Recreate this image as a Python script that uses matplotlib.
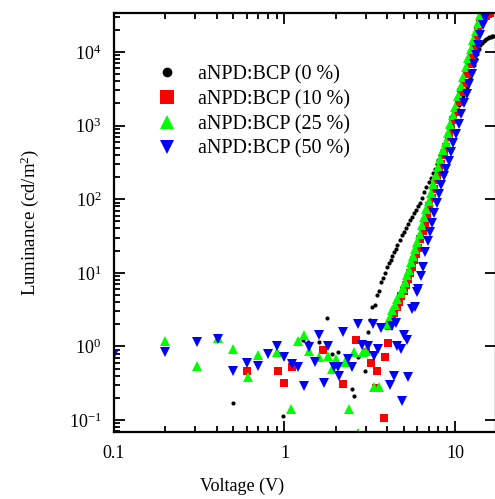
import matplotlib
matplotlib.use('Agg')
import matplotlib.pyplot as plt
from matplotlib.ticker import LogLocator, LogFormatterMathtext, NullFormatter
from matplotlib.lines import Line2D

plt.rcParams['font.family'] = ['Liberation Serif', 'DejaVu Serif']
plt.rcParams['mathtext.fontset'] = 'custom'
plt.rcParams['mathtext.rm'] = 'Liberation Serif'
plt.rcParams['mathtext.it'] = 'Liberation Serif:italic'

# %% data: voltage (V) and luminance (cd/m2)
labels = ['aNPD:BCP (0 %)', 'aNPD:BCP (10 %)', 'aNPD:BCP (25 %)', 'aNPD:BCP (50 %)']

v0 = [0.5, 0.98, 1.28, 1.37, 1.59, 1.78, 1.9, 2.06, 2.5, 2.55, 2.7, 2.97, 3.1, 3.17,
      3.26, 3.4, 3.5, 3.6, 3.7, 3.8, 3.9, 4.0, 4.1, 4.2, 4.3, 4.4, 4.5, 4.6, 4.75, 4.9,
      5.0, 5.15, 5.3, 5.45, 5.6, 5.75, 5.9, 6.05, 6.2, 6.4, 6.6, 6.8, 7.0, 7.2, 7.4,
      7.6, 7.8, 8.0, 8.2, 8.4, 8.65, 8.9, 9.15, 9.4, 9.65, 9.9, 10.2, 10.5, 10.8, 11.1,
      11.4, 11.7, 12.0, 12.3, 12.6, 12.9, 13.2, 13.5, 13.8, 14.1, 14.4, 14.7, 15.0,
      15.3, 15.6, 15.9, 16.2, 16.5, 16.8]
l0 = [0.17, 0.115, 1.24, 1.13, 1.13, 2.4, 0.8, 0.83, 0.26, 0.21, 0.71, 0.46, 1.55, 2.3,
      3.4, 3.7, 5.0, 5.6, 7.4, 8.5, 9.8, 12, 13.5, 15, 16.7, 19, 21, 24, 28, 33,
      36, 41, 46, 52, 58, 64, 72, 80, 90, 105, 125, 145, 170, 195, 225,
      260, 300, 345, 400, 460, 540, 640, 760, 900, 1070, 1270, 1550, 1880, 2150, 2500,
      2900, 3350, 3850, 4500, 5400, 6600, 8000, 9500, 11000, 12300, 13300, 14000, 14700,
      15200, 15600, 15900, 16200, 16400, 16500]

v10 = [0.6, 0.92, 1.0, 1.11, 1.68, 2.2, 2.62, 3.0, 3.2, 3.45, 3.5, 3.85, 3.9, 4.03,
       4.1, 4.25, 4.4, 4.55, 4.7, 4.85, 5.0, 5.15, 5.3, 5.45, 5.6, 5.75, 5.9, 6.05,
       6.25, 6.45, 6.65, 6.85, 7.05, 7.3, 7.55, 7.8, 8.05, 8.3, 8.6, 8.9, 9.2, 9.5,
       9.8, 10.1, 10.5, 10.9, 11.3, 11.7, 12.1, 12.5, 12.9, 13.3, 13.7, 14.1, 14.6,
       15.1, 15.6, 16.0]
l10 = [0.47, 0.47, 0.32, 0.52, 0.88, 0.31, 1.24, 0.83, 0.59, 0.27, 0.47, 0.105, 0.71, 1.1,
       1.9, 2.3, 2.8, 3.4, 4.0, 4.8, 5.7, 6.8, 8.2, 10, 12, 15, 18, 22,
       29, 37, 48, 62, 80, 104, 137, 180, 235, 305, 400, 520, 690, 900,
       1180, 1550, 2100, 2850, 3800, 5100, 6800, 9000, 12000, 15500, 20000, 24000, 28000,
       31000, 33000, 34000]

v25 = [0.2, 0.306, 0.41, 0.5, 0.61, 0.7, 0.9, 1.09, 1.2, 1.3, 1.4, 1.6, 1.8, 1.9, 2.0,
       2.25, 2.4, 2.55, 2.7, 2.9, 3.0, 3.35, 3.6,
       4.0, 4.15, 4.3, 4.45, 4.6, 4.8, 4.95, 5.1, 5.25, 5.4, 5.55, 5.7, 5.85, 6.0, 6.2,
       6.4, 6.6, 6.8, 7.0, 7.2, 7.45, 7.7, 7.95, 8.2, 8.5, 8.8, 9.1, 9.4, 9.7, 10.0,
       10.4, 10.8, 11.2, 11.6, 12.0, 12.4, 12.8, 13.2, 13.6, 14.0]
l25 = [1.17, 0.55, 1.32, 0.91, 0.38, 0.76, 0.83, 0.14, 1.17, 1.45, 0.86, 0.71, 0.73, 0.49, 0.67,
       0.61, 0.14, 0.83, 0.066, 0.83, 0.86, 0.28, 0.28,
       2.0, 2.5, 3.1, 3.7, 4.4, 5.3, 6.3, 7.6, 9.2, 11, 14, 17, 21, 26, 34,
       44, 57, 74, 95, 120, 160, 210, 270, 350, 460, 600, 790, 1050, 1380, 1800,
       2500, 3400, 4600, 6200, 8300, 11000, 14500, 19000, 25000, 32000]

v50 = [0.1, 0.2, 0.306, 0.41, 0.5, 0.6, 0.7, 0.8, 0.9, 1.0, 1.11, 1.2, 1.3, 1.4, 1.5,
       1.6, 1.7, 1.8, 1.95, 2.06, 2.1, 2.2, 2.35, 2.5, 2.7, 2.85, 3.1, 3.3, 3.36, 3.55,
       3.7, 4.15, 4.3, 4.4, 4.5, 4.6, 4.8, 4.9, 5.0, 5.25, 5.3,
       5.6, 5.85, 6.0, 6.1, 6.3, 6.5, 6.7, 6.9, 7.1, 7.3, 7.55, 7.8, 8.05, 8.3, 8.6,
       8.9, 9.2, 9.5, 9.8, 10.1, 10.5, 10.9, 11.3, 11.7, 12.1, 12.5, 12.9, 13.3, 13.7,
       14.1, 14.5, 14.9, 15.3]
l50 = [0.78, 0.83, 1.13, 1.28, 0.46, 0.6, 0.54, 0.78, 1.0, 0.71, 0.57, 0.52, 0.29, 0.97, 0.61,
       1.45, 0.32, 1.0, 0.52, 0.52, 0.39, 1.55, 0.67, 0.52, 2.0, 1.06, 1.0, 2.0, 0.73, 0.91,
       1.8, 0.3, 1.9, 0.39, 2.1, 1.0, 0.91, 0.18, 1.45, 1.24, 0.38,
       3.2, 3.4, 5.4, 6.0, 9, 12, 19, 27, 36, 48, 64, 88, 118, 155, 205,
       260, 330, 440, 580, 770, 1050, 1450, 2000, 2700, 3700, 5000, 6800, 9200, 12500,
       17000, 23000, 29000, 35000]

# %% plot
fig = plt.figure(figsize=(4.95, 4.99), dpi=100)
ax = fig.add_axes([114 / 495, 1 - 432 / 499, 382 / 495, (432 - 12.7) / 499])

ax.plot(v0, l0, 'o', color='black', ms=3, mew=0)
ax.plot(v10, l10, 's', color='#ff0000', ms=5.5, mew=0)
ax.plot(v25, l25, '^', color='#00ff00', ms=7, mew=0)
ax.plot(v50, l50, 'v', color='#0000ff', ms=7, mew=0)

ax.set_xscale('log')
ax.set_yscale('log')
ax.set_xlim(0.1, 17.4)
ax.set_ylim(0.0687, 34200)

ax.xaxis.set_major_locator(LogLocator(base=10))
ax.xaxis.set_minor_locator(LogLocator(base=10, subs=range(2, 10)))
ax.xaxis.set_minor_formatter(NullFormatter())
ax.xaxis.set_major_formatter(plt.FuncFormatter(lambda v, p: '%g' % v))
ax.yaxis.set_major_locator(LogLocator(base=10))
ax.yaxis.set_minor_locator(LogLocator(base=10, subs=range(2, 10)))
ax.yaxis.set_minor_formatter(NullFormatter())
ax.yaxis.set_major_formatter(LogFormatterMathtext())

ax.tick_params(which='both', direction='in', top=True, right=True, labelsize=13, width=1.3)
ax.tick_params(which='major', length=8, pad=9)
ax.tick_params(which='minor', length=4.5)
ax.tick_params(axis='y', which='minor', right=False)
for s in ax.spines.values():
    s.set_linewidth(1.6)

ax.set_xlabel('Voltage (V)', fontsize=13)
ax.xaxis.set_label_coords(0.335, -0.11)
ax.set_ylabel('Luminance (cd/m$^{2}$)', fontsize=13.5)
ax.yaxis.set_label_coords(-0.19, 0.5)

handles = [
    Line2D([], [], ls='none', marker='o', color='black', ms=7, mew=0),
    Line2D([], [], ls='none', marker='s', color='#ff0000', ms=9.5, mew=0),
    Line2D([], [], ls='none', marker='^', color='#00ff00', ms=10.5, mew=0),
    Line2D([], [], ls='none', marker='v', color='#0000ff', ms=10.5, mew=0),
]
fig.legend(handles, labels, loc='upper left', bbox_to_anchor=(157 / 495, 1 - 65 / 499),
           frameon=False, fontsize=14.5, handlelength=1.0, handletextpad=1.05,
           labelspacing=0.28, borderpad=0, borderaxespad=0)

fig.savefig('out.png', dpi=100)
